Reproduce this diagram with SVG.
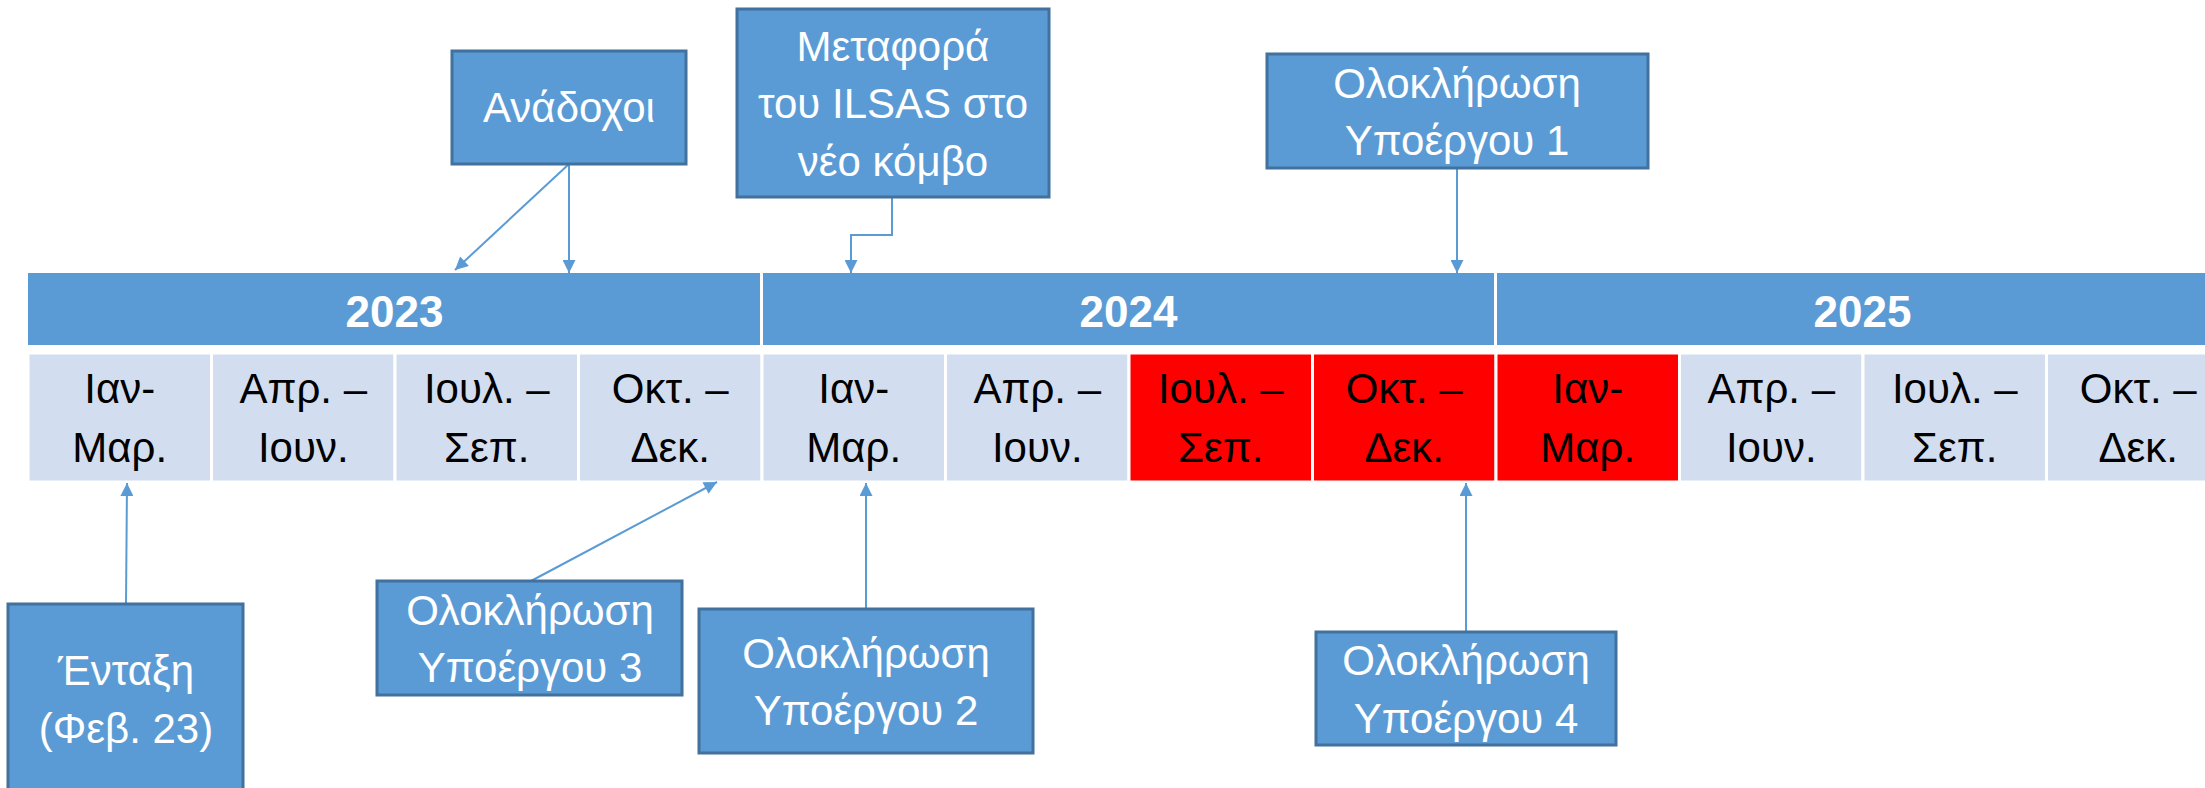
<svg xmlns="http://www.w3.org/2000/svg" width="2205" height="788" viewBox="0 0 2205 788">
<style>
.yr{fill:#5B9BD5}
.cell{fill:#D2DEEF;stroke:#fff;stroke-width:3}
.red{fill:#FF0000;stroke:#fff;stroke-width:3}
.ytxt{font-family:"Liberation Sans",Arial,sans-serif;font-size:44px;font-weight:bold;fill:#fff;text-anchor:middle}
.mtxt{font-family:"Liberation Sans",Arial,sans-serif;font-size:42px;fill:#000;text-anchor:middle}
.box{fill:#5B9BD5;stroke:#41719C;stroke-width:3}
.btxt{font-family:"Liberation Sans",Arial,sans-serif;font-size:42px;fill:#fff;text-anchor:middle}
.con{fill:none;stroke:#5B9BD5;stroke-width:2}
</style>
<defs>
<marker id="ah" viewBox="0 0 10 10" refX="10" refY="5" markerWidth="17" markerHeight="13" markerUnits="userSpaceOnUse" orient="auto">
<path d="M0,0 L10,5 L0,10 z" fill="#5B9BD5"/>
</marker>
</defs>
<rect width="2205" height="788" fill="#fff"/>
<g id="years">
<rect class="yr" x="28" y="273" width="2202" height="72"/>
<line x1="761.5" y1="273" x2="761.5" y2="345" stroke="#fff" stroke-width="3"/>
<line x1="1495.5" y1="273" x2="1495.5" y2="345" stroke="#fff" stroke-width="3"/>
<text class="ytxt" x="394.5" y="327">2023</text>
<text class="ytxt" x="1128.5" y="327">2024</text>
<text class="ytxt" x="1862.5" y="327">2025</text>
</g>
<g id="months">
<rect class="cell" x="28" y="353" width="183.5" height="129"/>
<rect class="cell" x="211.5" y="353" width="183.5" height="129"/>
<rect class="cell" x="395" y="353" width="183.5" height="129"/>
<rect class="cell" x="578.5" y="353" width="183.5" height="129"/>
<rect class="cell" x="762" y="353" width="183.5" height="129"/>
<rect class="cell" x="945.5" y="353" width="183.5" height="129"/>
<rect class="red" x="1129" y="353" width="183.5" height="129"/>
<rect class="red" x="1312.5" y="353" width="183.5" height="129"/>
<rect class="red" x="1496" y="353" width="183.5" height="129"/>
<rect class="cell" x="1679.5" y="353" width="183.5" height="129"/>
<rect class="cell" x="1863" y="353" width="183.5" height="129"/>
<rect class="cell" x="2046.5" y="353" width="183.5" height="129"/>
<text class="mtxt" x="119.75" y="403">Ιαν-</text><text class="mtxt" x="119.75" y="462">Μαρ.</text>
<text class="mtxt" x="303.25" y="403">Απρ. –</text><text class="mtxt" x="303.25" y="462">Ιουν.</text>
<text class="mtxt" x="486.75" y="403">Ιουλ. –</text><text class="mtxt" x="486.75" y="462">Σεπ.</text>
<text class="mtxt" x="670.25" y="403">Οκτ. –</text><text class="mtxt" x="670.25" y="462">Δεκ.</text>
<text class="mtxt" x="853.75" y="403">Ιαν-</text><text class="mtxt" x="853.75" y="462">Μαρ.</text>
<text class="mtxt" x="1037.25" y="403">Απρ. –</text><text class="mtxt" x="1037.25" y="462">Ιουν.</text>
<text class="mtxt" x="1220.75" y="403">Ιουλ. –</text><text class="mtxt" x="1220.75" y="462">Σεπ.</text>
<text class="mtxt" x="1404.25" y="403">Οκτ. –</text><text class="mtxt" x="1404.25" y="462">Δεκ.</text>
<text class="mtxt" x="1587.75" y="403">Ιαν-</text><text class="mtxt" x="1587.75" y="462">Μαρ.</text>
<text class="mtxt" x="1771.25" y="403">Απρ. –</text><text class="mtxt" x="1771.25" y="462">Ιουν.</text>
<text class="mtxt" x="1954.75" y="403">Ιουλ. –</text><text class="mtxt" x="1954.75" y="462">Σεπ.</text>
<text class="mtxt" x="2138.25" y="403">Οκτ. –</text><text class="mtxt" x="2138.25" y="462">Δεκ.</text>
</g>
<g id="connectors">
<path class="con" d="M569,164 L569,273" marker-end="url(#ah)"/>
<path class="con" d="M569,164 L455,270" marker-end="url(#ah)"/>
<path class="con" d="M892,197 L892,235 L851,235 L851,273" marker-end="url(#ah)"/>
<path class="con" d="M1457,168 L1457,273" marker-end="url(#ah)"/>
<path class="con" d="M126,604 L127,483" marker-end="url(#ah)"/>
<path class="con" d="M531,581 L717,482" marker-end="url(#ah)"/>
<path class="con" d="M866,609 L866,483" marker-end="url(#ah)"/>
<path class="con" d="M1466,632 L1466,483" marker-end="url(#ah)"/>
</g>
<g id="anadoxoi">
<rect class="box" x="452" y="51" width="234" height="113"/>
<text class="btxt" x="569" y="122">Ανάδοχοι</text>
</g>
<g id="metafora">
<rect class="box" x="737" y="9" width="312" height="188"/>
<text class="btxt" x="893" y="61">Μεταφορά</text>
<text class="btxt" x="893" y="118">του ILSAS στο</text>
<text class="btxt" x="893" y="176">νέο κόμβο</text>
</g>
<g id="ypoergo1">
<rect class="box" x="1267" y="54" width="381" height="114"/>
<text class="btxt" x="1457" y="98">Ολοκλήρωση</text>
<text class="btxt" x="1457" y="155">Υποέργου 1</text>
</g>
<g id="entaxi">
<rect class="box" x="8" y="604" width="235" height="200"/>
<text class="btxt" x="126" y="685">Ένταξη</text>
<text class="btxt" x="126" y="743">(Φεβ. 23)</text>
</g>
<g id="ypoergo3">
<rect class="box" x="377" y="581" width="305" height="114"/>
<text class="btxt" x="530" y="625">Ολοκλήρωση</text>
<text class="btxt" x="530" y="682">Υποέργου 3</text>
</g>
<g id="ypoergo2">
<rect class="box" x="699" y="609" width="334" height="144"/>
<text class="btxt" x="866" y="668">Ολοκλήρωση</text>
<text class="btxt" x="866" y="725">Υποέργου 2</text>
</g>
<g id="ypoergo4">
<rect class="box" x="1316" y="632" width="300" height="113"/>
<text class="btxt" x="1466" y="675">Ολοκλήρωση</text>
<text class="btxt" x="1466" y="733">Υποέργου 4</text>
</g>
</svg>
